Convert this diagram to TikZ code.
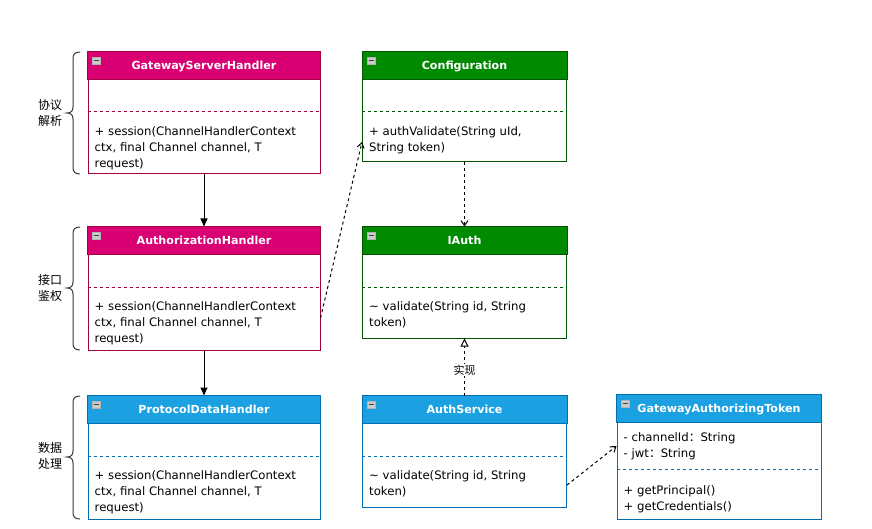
\documentclass[tikz,border=0pt]{standalone}
\usepackage{fontspec}
\setmainfont{DejaVu Sans}
\newfontfamily\cjkfont{Noto Sans CJK SC}
\usetikzlibrary{arrows.meta}

\definecolor{pinkhead}{HTML}{D80073}
\definecolor{pinkline}{HTML}{A50040}
\definecolor{greenhead}{HTML}{008A00}
\definecolor{greenline}{HTML}{005700}
\definecolor{bluehead}{HTML}{1BA1E2}
\definecolor{blueline}{HTML}{006EAF}
\definecolor{bracegray}{HTML}{3A3A3A}

\tikzset{
  classframe/.style={draw, fill=white, line width=1pt, inner sep=0pt},
  classtitle/.style={font=\bfseries\fontsize{11.1}{13}\selectfont, text=white, inner sep=0pt, anchor=base},
  classbody/.style={font=\fontsize{11.7}{16}\selectfont, align=left, inner sep=0pt, anchor=north west},
  foldicon/.style={draw=gray!60, fill=gray!40, line width=0.5pt, minimum width=8pt, minimum height=7pt, inner sep=0pt,
    path picture={\draw[black!75, line width=1pt]
      ([xshift=1.5pt]path picture bounding box.west) -- ([xshift=-1.5pt]path picture bounding box.east);}},
  flow/.style={line width=1pt, -{Triangle[length=8pt,width=7pt]}},
  dep/.style={line width=1pt, dash pattern=on 3pt off 3pt, -{Straight Barb[length=5pt,width=7pt]}},
  impl/.style={line width=1pt, dash pattern=on 3pt off 3pt, -{Triangle[open,length=8pt,width=8pt,fill=white]}},
  implabel/.style={fill=white, font=\cjkfont\fontsize{11}{13}\selectfont, inner sep=1pt},
  bracestroke/.style={draw=bracegray, line width=1pt},
  layerlabel/.style={font=\cjkfont\fontsize{12}{16}\selectfont, align=center, inner sep=0pt},
}

% UML class box: name, centre, width, height, colour theme, title, divider offset
\newcommand{\umlclass}[7]{%
  \node[classframe, draw=#5line, minimum width=#3, minimum height=#4] (#1) at #2 {};
  \filldraw[fill=#5head, draw=#5line, line width=1pt] (#1.north west) rectangle ([yshift=-28pt]#1.north east);
  \draw[#5line, line width=1pt, dash pattern=on 3pt off 3pt]
    ([yshift=-#7]#1.north west) -- ([yshift=-#7]#1.north east);
  \node[classtitle] (#1-title) at ([yshift=-18pt]#1.north) {#6};
  \node[foldicon] (#1-icon) at ([xshift=9pt,yshift=-9pt]#1.north west) {};
}

% left curly bracket: top y, bottom y, tip y
\newcommand{\layerbrace}[3]{%
  \draw[bracestroke] (80,#1) .. controls (75.5,#1) and (73,{#1+2}) .. (73,{#1+6})
    -- (73,{#3-6}) .. controls (73,{#3-2}) and (71,#3) .. (67,#3)
    .. controls (71,#3) and (73,{#3+2}) .. (73,{#3+6})
    -- (73,{#2-6}) .. controls (73,{#2-2}) and (75.5,#2) .. (80,#2);
}

\begin{document}
\begin{tikzpicture}[x=1pt,y=-1pt]
\useasboundingbox[fill=white] (0,0) rectangle (872,529);

% handler chain
\umlclass{gsh}{(204,113)}{232pt}{122pt}{pink}{GatewayServerHandler}{60pt}
\umlclass{ah}{(204,288.5)}{232pt}{123pt}{pink}{AuthorizationHandler}{61pt}
\umlclass{pdh}{(204,457.5)}{232pt}{123pt}{blue}{ProtocolDataHandler}{61pt}

% authentication side
\umlclass{conf}{(464.5,107)}{204pt}{110pt}{green}{Configuration}{60pt}
\umlclass{iauth}{(464.5,282.5)}{204pt}{111pt}{green}{IAuth}{61pt}
\umlclass{as}{(464.5,451.5)}{204pt}{111pt}{blue}{AuthService}{61pt}
\umlclass{gat}{(719,457)}{204pt}{124pt}{blue}{GatewayAuthorizingToken}{75pt}

% members
\node[classbody] (gsh-m) at ([xshift=7pt,yshift=-75pt]gsh.north west)
  {+ session(ChannelHandlerContext\\ctx, final Channel channel, T\\request)};
\node[classbody] (ah-m) at ([xshift=7pt,yshift=-75pt]ah.north west)
  {+ session(ChannelHandlerContext\\ctx, final Channel channel, T\\request)};
\node[classbody] (pdh-m) at ([xshift=7pt,yshift=-75pt]pdh.north west)
  {+ session(ChannelHandlerContext\\ctx, final Channel channel, T\\request)};
\node[classbody] (conf-m) at ([xshift=7pt,yshift=-75pt]conf.north west)
  {+ authValidate(String uId,\\String token)};
\node[classbody] (iauth-m) at ([xshift=7pt,yshift=-75pt]iauth.north west)
  {\textasciitilde{} validate(String id, String\\token)};
\node[classbody] (as-m) at ([xshift=7pt,yshift=-75pt]as.north west)
  {\textasciitilde{} validate(String id, String\\token)};
\node[classbody] (gat-a) at ([xshift=7pt,yshift=-38pt]gat.north west)
  {- channelId{\cjkfont ：}String\\- jwt{\cjkfont ：}String};
\node[classbody] (gat-m) at ([xshift=7pt,yshift=-91pt]gat.north west)
  {+ getPrincipal()\\+ getCredentials()};

% connectors
\draw[flow] (gsh.south) -- (ah.north);
\draw[flow] (ah.south) -- (pdh.north);
\draw[dep] ([yshift=-29.5pt]ah.east) -- ([yshift=-35pt]conf.west);
\draw[dep] (conf.south) -- (iauth.north);
\draw[impl] (as.north) -- node[implabel, pos=0.45] (impl-lbl) {实现} (iauth.south);
\draw[dep] ([yshift=-33.5pt]as.east) -- ([yshift=11pt]gat.west);

% layer brackets
\layerbrace{52}{174}{113}
\layerbrace{227}{350}{288}
\layerbrace{396}{519}{457}
\node[layerlabel] (lay1) at (50,113) {协议\\解析};
\node[layerlabel] (lay2) at (50,288) {接口\\鉴权};
\node[layerlabel] (lay3) at (50,456) {数据\\处理};
\end{tikzpicture}
\end{document}
